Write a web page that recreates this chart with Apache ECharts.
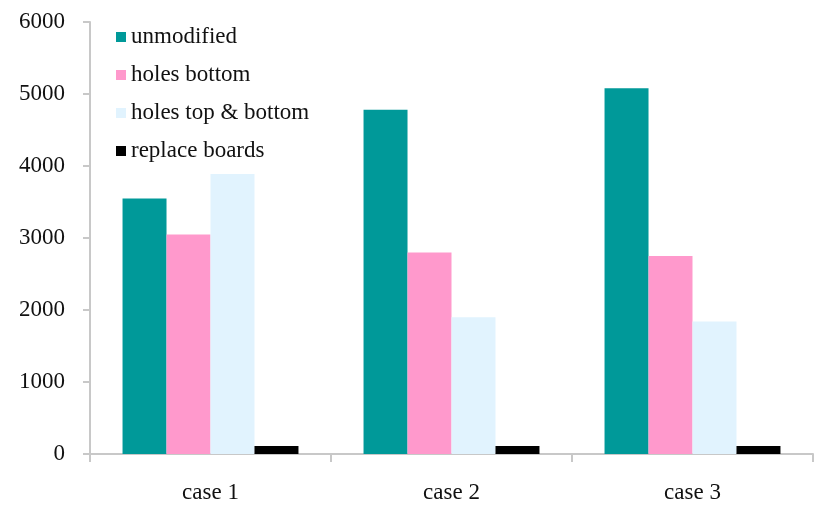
<!DOCTYPE html>
<html>
<head>
<meta charset="utf-8">
<script src="https://cdn.jsdelivr.net/npm/echarts@6/dist/echarts.min.js"></script>
<style>
  html, body { margin: 0; padding: 0; background: #fff; }
  #chart { width: 814px; height: 506px; }
</style>
</head>
<body>
<div id="chart"></div>
<script>
// Categories and series values
const categories = ['case 1', 'case 2', 'case 3'];
const unmodified = [3550, 4780, 5080];
const holesBottom = [3050, 2800, 2750];
const holesTopBottom = [3890, 1900, 1840];
const replaceBoards = [110, 110, 110];
const seriesNames = ['unmodified', 'holes bottom', 'holes top & bottom', 'replace boards'];
const seriesColors = ['#009999', '#ff99cc', '#e1f3fe', '#000000'];
const yTicks = { min: 0, max: 6000, interval: 1000 };

const font = '"Liberation Serif", "Times New Roman", serif';
const axisGray = '#c8c8c8';

const chart = echarts.init(document.getElementById('chart'));
const values = [unmodified, holesBottom, holesTopBottom, replaceBoards];

chart.setOption({
  animation: false,
  backgroundColor: '#ffffff',
  grid: { left: 90, right: 1, top: 22, bottom: 52, containLabel: false },
  legend: {
    orient: 'vertical',
    left: 111,
    top: 20,
    itemWidth: 10,
    itemHeight: 10,
    itemGap: 14,
    icon: 'rect',
    data: seriesNames,
    textStyle: { fontFamily: font, fontSize: 23, color: '#111', lineHeight: 24 }
  },
  xAxis: {
    type: 'category',
    data: categories,
    axisLine: { lineStyle: { color: axisGray, width: 2 } },
    axisTick: { show: true, length: 8, interval: 0, lineStyle: { color: axisGray, width: 2 } },
    axisLabel: { fontFamily: font, fontSize: 23, color: '#111', margin: 27 }
  },
  yAxis: {
    type: 'value',
    min: yTicks.min,
    max: yTicks.max,
    interval: yTicks.interval,
    splitLine: { show: false },
    axisLine: { show: true, lineStyle: { color: axisGray, width: 2 } },
    axisTick: { show: true, length: 7, lineStyle: { color: axisGray, width: 2 } },
    axisLabel: { fontFamily: font, fontSize: 23, color: '#111', margin: 25, formatter: v => String(v) }
  },
  series: seriesNames.map((name, i) => ({
    name: name,
    type: 'bar',
    data: values[i],
    barGap: '0%',
    barCategoryGap: '27%',
    itemStyle: { color: seriesColors[i] }
  }))
});
</script>
</body>
</html>
